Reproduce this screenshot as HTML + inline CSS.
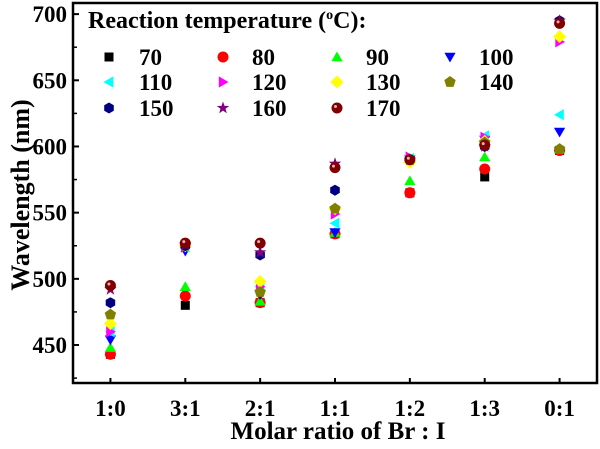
<!DOCTYPE html>
<html><head><meta charset="utf-8">
<style>
html,body{margin:0;padding:0;background:#fff;}
svg, svg text{font-family:"Liberation Serif","Times New Roman",serif !important;font-weight:bold;}
</style></head>
<body>
<svg id="chart" width="600" height="444" viewBox="0 0 600 444" xmlns="http://www.w3.org/2000/svg" font-family="Liberation Serif, serif" font-weight="bold"></svg>
<script>
const categories = ["1:0","3:1","2:1","1:1","1:2","1:3","0:1"];
const temps = ["70","80","90","100","110","120","130","140","150","160","170"];
const s70  = [443,480,482,534,565,577,597];
const s80  = [443,487,482,534,565,583,597];
const s90  = [448,494,483,535,574,592,598];
const s100 = [454,521,488,535,590,605,611];
const s110 = [460,524,494,542,591,608,624];
const s120 = [460,524,494,549,592,607,679];
const s130 = [466,525,498,553,588,604,683];
const s140 = [473,525,490,553,590,603,598];
const s150 = [482,525,518,567,590,600,695];
const s160 = [492,526,520,587,590,600,695];
const s170 = [495,527,527,584,590,601,693];
const series = [s70,s80,s90,s100,s110,s120,s130,s140,s150,s160,s170];
const colors = ["#000","#f00","#0f0","#00f","#0ff","#f0f","#ff0","#808000","#000080","#800080","#800000"];
const shapes = ["square","circle","up","down","left","right","diamond","pentagon","hexagon","star","sphere"];
const yTicks = [450,500,550,600,650,700];

const NS="http://www.w3.org/2000/svg";
const svg=document.getElementById('chart');
const L=73,R=597,T=3,B=383;
const yMin=421.3,yMax=708.4;
const xs=i=>L+(i+0.5)*(R-L)/categories.length;
const ys=v=>B-(v-yMin)*(B-T)/(yMax-yMin);
function mk(tag,attrs,parent){const e=document.createElementNS(NS,tag);for(const k in attrs)e.setAttribute(k,attrs[k]);if(tag==='text'){e.setAttribute('font-family','Liberation Serif, serif');e.setAttribute('font-weight','bold');}(parent||svg).appendChild(e);return e;}
function poly(cx,cy,n,r,rot){let p=[];for(let k=0;k<n;k++){const a=rot+k*2*Math.PI/n;p.push((cx+r*Math.cos(a)).toFixed(1)+','+(cy+r*Math.sin(a)).toFixed(1));}return p.join(' ');}
function marker(shape,color,cx,cy,g){
  switch(shape){
    case "square": return mk('rect',{x:cx-4.5,y:cy-4.5,width:9,height:9,fill:color},g);
    case "circle": return mk('circle',{cx:cx,cy:cy,r:5.5,fill:color},g);
    case "up": return mk('polygon',{points:poly(cx,cy+1,3,6.5,-Math.PI/2),fill:color},g);
    case "down": return mk('polygon',{points:poly(cx,cy-1,3,6.5,Math.PI/2),fill:color},g);
    case "left": return mk('polygon',{points:poly(cx+1,cy,3,6.5,Math.PI),fill:color},g);
    case "right": return mk('polygon',{points:poly(cx-1,cy,3,6.5,0),fill:color},g);
    case "diamond": return mk('polygon',{points:poly(cx,cy,4,6.5,0),fill:color},g);
    case "pentagon": return mk('polygon',{points:poly(cx,cy,5,6,-Math.PI/2),fill:color},g);
    case "hexagon": return mk('polygon',{points:poly(cx,cy,6,5.5,Math.PI/2),fill:color},g);
    case "star": {let p=[];for(let k=0;k<10;k++){const a=-Math.PI/2+k*Math.PI/5;const rr=k%2?2.6:6.5;p.push((cx+rr*Math.cos(a)).toFixed(1)+','+(cy+rr*Math.sin(a)).toFixed(1));}return mk('polygon',{points:p.join(' '),fill:color},g);}
    case "sphere": {const c=mk('circle',{cx:cx,cy:cy,r:5.5,fill:color},g);mk('circle',{cx:cx-1.5,cy:cy-1.5,r:1.5,fill:"#e8b0b0"},g);return c;}
  }
}
const frame=mk('rect',{x:L,y:T,width:R-L,height:B-T,fill:'none',stroke:'#000','stroke-width':2.5});


yTicks.forEach(v=>{
  const y=ys(v);
  mk('line',{x1:L,x2:L+6,y1:y,y2:y,stroke:'#000','stroke-width':2});
  const t=mk('text',{x:L-6,y:y+8,'text-anchor':'end','font-size':23});
  t.textContent=v;
  
  
});
for(let v=425;v<=700;v+=50){const y=ys(v);mk('line',{x1:L,x2:L+4,y1:y,y2:y,stroke:'#000','stroke-width':1.5});}
categories.forEach((c,i)=>{
  const x=xs(i);
  mk('line',{x1:x,x2:x,y1:B,y2:B-5,stroke:'#000','stroke-width':2});
  const t=mk('text',{x:x,y:B+33,'text-anchor':'middle','font-size':23});
  t.textContent=c;
  
  
});
const xt=mk('text',{x:338,y:439,'text-anchor':'middle','font-size':25});
xt.textContent='Molar ratio of Br : I';


const yt=mk('text',{x:0,y:0,'text-anchor':'middle','font-size':26,transform:'translate(29,195) rotate(-90)'});
yt.textContent='Wavelength (nm)';


series.forEach((s,si)=>{
  const g=mk('g',{});
  
  
  s.forEach((v,i)=>{
    const m=marker(shapes[si],colors[si],xs(i),ys(v),g);
    
    
  });
});
const lg=mk('g',{});


const title=mk('text',{x:88,y:28,'font-size':24},lg);
title.innerHTML='Reaction temperature (<tspan dy="-9" font-size="14">o</tspan><tspan dy="9">C):</tspan>';


const colMx=[109,223,337,450],colTx=[139,252,366,479],rowY=[57,82,108];
temps.forEach((t,i)=>{
  const r=Math.floor(i/4),c=i%4;
  const eg=mk('g',{},lg);
  
  
  marker(shapes[i],colors[i],colMx[c],rowY[r],eg);
  const tx=mk('text',{x:colTx[c],y:rowY[r]+8,'font-size':23},eg);
  tx.textContent=t;
});
</script>
</body></html>
